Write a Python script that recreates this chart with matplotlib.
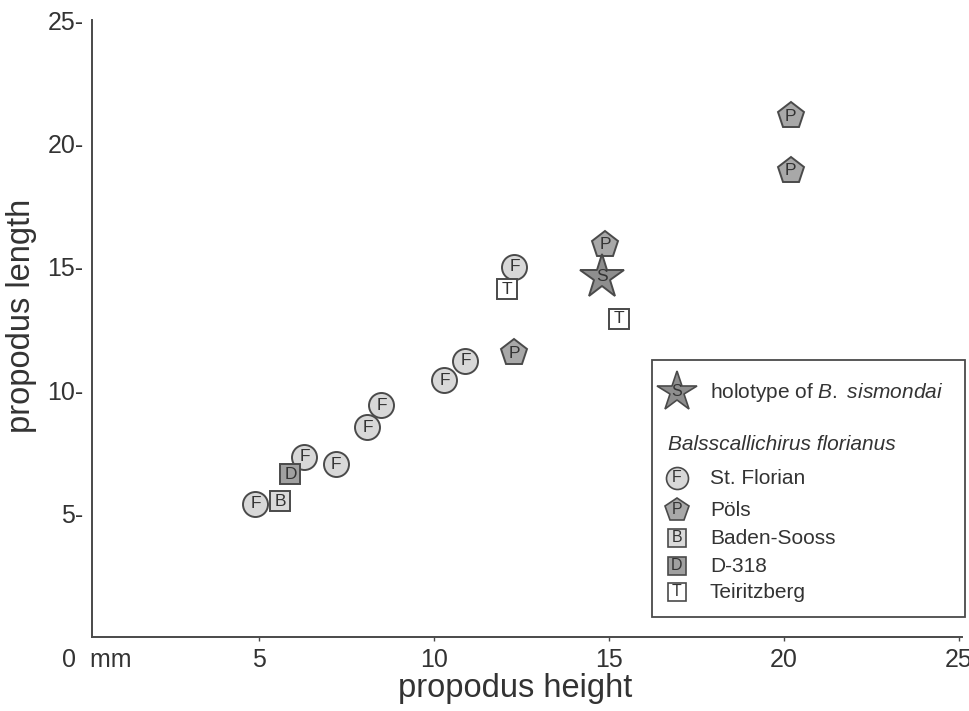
"""Propodus height vs length scatter, Balsscallichirus localities."""

import matplotlib

matplotlib.use("Agg")
import matplotlib.pyplot as plt
from matplotlib.lines import Line2D

plt.rcParams["font.family"] = ["Liberation Sans", "DejaVu Sans"]
plt.rcParams["mathtext.fontset"] = "custom"
plt.rcParams["mathtext.rm"] = "Liberation Sans"
plt.rcParams["mathtext.it"] = "Liberation Sans:italic"

W, H = 970, 711
INK = "#333333"
EDGE = "#4a4a4a"

# data (mm)
florian_h = [4.9, 6.3, 7.2, 8.1, 8.5, 10.3, 10.9, 12.3]
florian_l = [5.4, 7.3, 7.0, 8.5, 9.4, 10.4, 11.2, 15.0]
pols_h = [12.3, 14.9, 20.2, 20.2]
pols_l = [11.5, 15.9, 21.1, 18.9]
baden_h = [5.6]
baden_l = [5.5]
d318_h = [5.9]
d318_l = [6.6]
teir_h = [12.1, 15.3]
teir_l = [14.1, 12.9]
holo_h = [14.8]
holo_l = [14.6]

STYLES = {
    "F": dict(marker="o", size=18, face="#d8d8d8", label="St. Florian"),
    "P": dict(marker="p", size=20, face="#a8a8a8", label="Pöls"),
    "B": dict(marker="s", size=15, face="#dadada", label="Baden-Sooss"),
    "D": dict(marker="s", size=15, face="#a0a0a0", label="D-318"),
    "T": dict(marker="s", size=15, face="#ffffff", label="Teiritzberg"),
    "S": dict(marker="*", size=33, face="#8e8e8e", label=None),
}

groups = [
    ("F", florian_h, florian_l),
    ("P", pols_h, pols_l),
    ("B", baden_h, baden_l),
    ("D", d318_h, d318_l),
    ("T", teir_h, teir_l),
    ("S", holo_h, holo_l),
]


def px(x, y):
    return x / W, 1 - y / H


fig = plt.figure(figsize=(W / 100, H / 100), dpi=100)
ax = fig.add_axes([92 / W, 1 - 637 / H, 870 / W, 617 / H])
ax.set_xlim(0.23, 25.09)
ax.set_ylim(0, 25)

for key, xs, ys in groups:
    st = STYLES[key]
    ax.plot(xs, ys, ls="none", marker=st["marker"], ms=st["size"],
            mfc=st["face"], mec=EDGE, mew=1.4, zorder=3, clip_on=False)
    for x, y in zip(xs, ys):
        ax.text(x, y, key, ha="center", va="center", fontsize=12.5,
                color=INK, zorder=4)

for side in ("top", "right"):
    ax.spines[side].set_visible(False)
for side in ("left", "bottom"):
    ax.spines[side].set_color(EDGE)
    ax.spines[side].set_linewidth(1.4)

ax.set_yticks([5, 10, 15, 20, 25])
ax.set_yticklabels([f"{v}-" for v in [5, 10, 15, 20, 25]])
ax.tick_params(axis="y", length=0, pad=6, labelsize=18, labelcolor=INK)
ax.set_xticks([5, 10, 15, 20, 25])
ax.set_xticklabels(["5", "10", "15", "20", "25"])
ax.tick_params(axis="x", length=3, width=1, color=EDGE, pad=5,
               labelsize=18, labelcolor=INK)
ax.text(-0.63, -0.95, "0  mm", ha="left", va="center", fontsize=18,
        color=INK, clip_on=False)

fig.text(*px(515, 689), "propodus height", ha="center", va="center",
         fontsize=23.5, color=INK)
fig.text(*px(22, 316), "propodus length", ha="center", va="center",
         rotation=90, fontsize=23.5, color=INK)

# legend box drawn by hand
box = plt.Rectangle(px(652, 617), (965 - 652) / W, (617 - 360) / H,
                    transform=fig.transFigure, fill=True, fc="white",
                    ec=EDGE, lw=1.3, zorder=5)
fig.patches.append(box)

leg_rows = [("S", 392, 0.9), ("F", 478, 0.88), ("P", 510, 0.88),
            ("B", 538, 0.88), ("D", 566, 0.88), ("T", 592, 0.88)]
for key, y, scale in leg_rows:
    st = STYLES[key]
    fig.add_artist(Line2D([677 / W], [1 - y / H], transform=fig.transFigure,
                          ls="none", marker=st["marker"], ms=st["size"] * scale,
                          mfc=st["face"], mec=EDGE, mew=1.2, zorder=6))
    fig.text(*px(677, y), key, ha="center", va="center",
             fontsize=11.5, color=INK, zorder=7)
    if st["label"]:
        fig.text(*px(710, y), st["label"], ha="left", va="center",
                 fontsize=15, color=INK, zorder=7)

fig.text(*px(710, 392), "holotype of $\\it{B.\\ sismondai}$", ha="left",
         va="center", fontsize=15, color=INK, zorder=7)
fig.text(*px(668, 445), "Balsscallichirus florianus", ha="left", va="center",
         fontsize=15, style="italic", color=INK, zorder=7)

fig.savefig("out.png", dpi=100, facecolor="white")
